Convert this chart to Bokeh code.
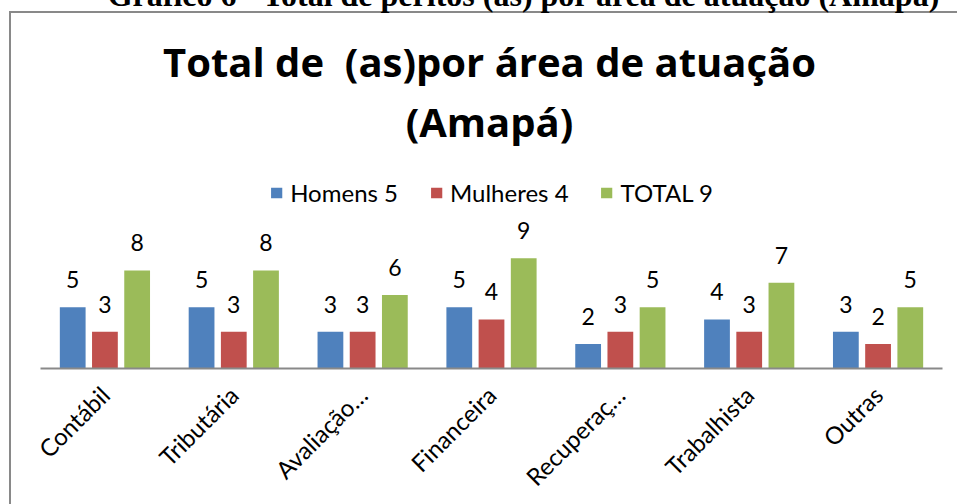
import math
from bokeh.plotting import figure
from bokeh.models import (ColumnDataSource, FactorRange, Range1d, LabelSet, Legend,
                          LegendItem, Label, InlineStyleSheet)
from bokeh.core.properties import value
from bokeh.transform import dodge
from bokeh.embed import file_html
from bokeh.resources import INLINE

categories = ["Contábil", "Tributária", "Avaliação…", "Financeira", "Recuperaç…", "Trabalhista", "Outras"]
homens = [5, 5, 3, 5, 2, 4, 3]
mulheres = [3, 3, 3, 4, 3, 3, 2]
total = [8, 8, 6, 9, 5, 7, 5]
series_names = ["Homens 5", "Mulheres 4", "TOTAL 9"]
colors = ["#4F81BD", "#C0504D", "#9BBB59"]
title_lines = ["Total de \u00a0(as)por área de atuação", "(Amapá)"]
header = "Gráfico 6 - Total de peritos (as) por área de atuação (Amapá)"

FONT = "Lato"
TFONT = "Open Sans"

src = ColumnDataSource(dict(
    cat=categories, homens=homens, mulheres=mulheres, total=total,
    homens_t=[str(v) for v in homens], mulheres_t=[str(v) for v in mulheres],
    total_t=[str(v) for v in total],
))

p = figure(width=957, height=504, x_range=FactorRange(*categories, range_padding=0),
           y_range=Range1d(0, 30.04), output_backend="svg", toolbar_location=None,
           min_border_left=40, min_border_right=15, min_border_top=0, min_border_bottom=136)
p.title = None
p.outline_line_color = None
p.border_fill_color = None
p.background_fill_color = None
p.xgrid.visible = False
p.ygrid.visible = False
p.yaxis.visible = False

cols = ["homens", "mulheres", "total"]
offsets = [-0.25, 0.0, 0.25]
renderers = []
for col, off, c in zip(cols, offsets, colors):
    r = p.vbar(x=dodge("cat", off, range=p.x_range), top=col, width=0.2, source=src,
               fill_color=c, line_color=None)
    renderers.append(r)
    lbl = LabelSet(x=dodge("cat", off, range=p.x_range), y=col, text=col + "_t", source=src,
                   text_align="center", text_baseline="alphabetic", y_offset=19,
                   text_font=value(FONT), text_font_size="23px", text_color="black")
    p.add_layout(lbl)

xa = p.xaxis[0]
xa.major_label_orientation = math.pi / 4
xa.major_label_text_font = FONT
xa.major_label_text_font_size = "24px"
xa.major_label_text_color = "black"
xa.major_tick_line_color = None
xa.minor_tick_line_color = None
xa.axis_line_color = "#898989"
xa.axis_line_width = 2
xa.major_label_standoff = 16

legend = Legend(items=[LegendItem(label=n, renderers=[r]) for n, r in zip(series_names, renderers)],
                orientation="horizontal", location="top_center",
                label_text_font=FONT, label_text_font_size="24px", label_text_color="black",
                glyph_width=14, glyph_height=13, label_standoff=7, spacing=31,
                padding=0, margin=178, border_line_color=None, background_fill_alpha=0)
p.add_layout(legend, "center")

# chart title, two lines (screen units: px from the frame's bottom-left corner)
for txt, ys in zip(title_lines, [307, 247]):
    p.add_layout(Label(x=449, y=ys, x_units="screen", y_units="screen", text=txt,
                       text_align="center", text_baseline="alphabetic",
                       text_font=TFONT, text_font_size="40px", text_font_style="bold",
                       text_color="black"))

# chart-area border (only its left and top edges fall inside the window) and the
# document caption above it, which the top of the window cuts off
css = """
:host {
  box-shadow: inset 9px 11px 0 0 #ffffff, inset 11px 13px 0 0 #898989;
}
:host::before {
  content: "%s";
  position: absolute; left: 0; top: -23px; width: 1047px;
  text-align: center; white-space: nowrap; z-index: 5;
  font: bold 32px "Liberation Serif"; color: #000;
}
""" % header
p.stylesheets = [InlineStyleSheet(css=css)]

open("out.html", "w").write(file_html(p, INLINE))
